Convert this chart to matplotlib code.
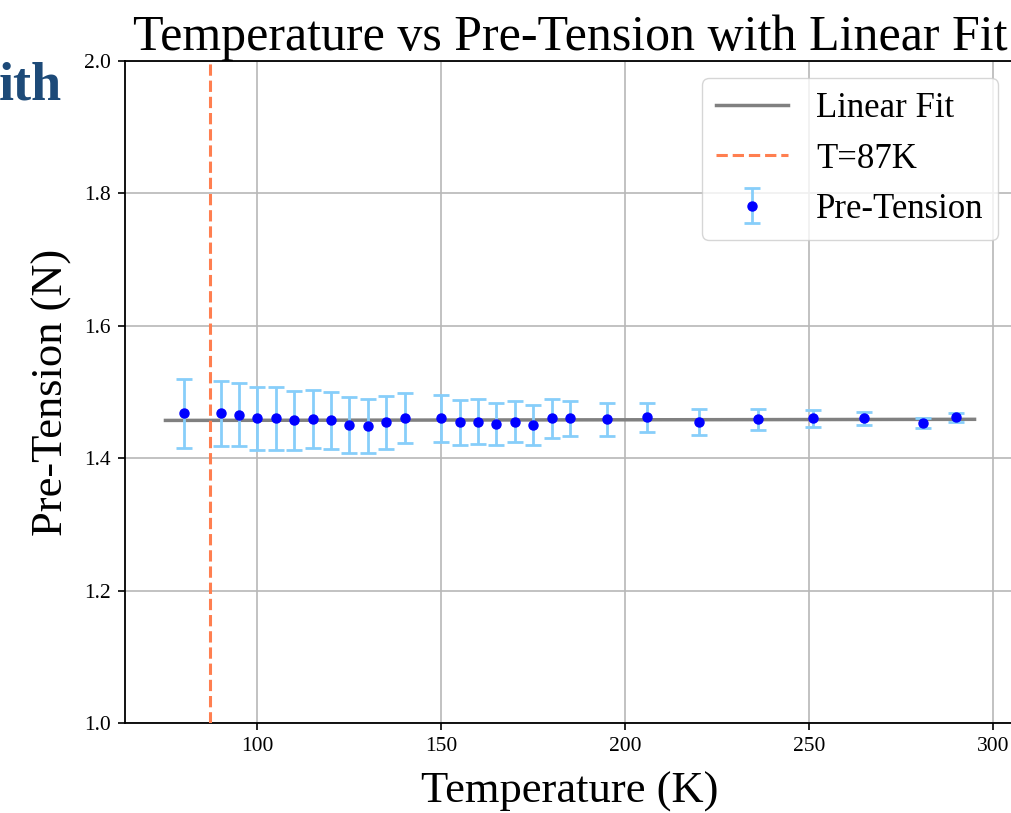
import numpy as np
import matplotlib
matplotlib.use("Agg")
import matplotlib.pyplot as plt

plt.rcParams['font.family'] = ['Liberation Serif', 'DejaVu Serif']

# Donnees
temperature = [80, 90, 95, 100, 105, 110, 115, 120, 125, 130, 135, 140,
               150, 155, 160, 165, 170, 175, 180, 185, 195, 206,
               220, 236, 251, 265, 281, 290]
pre_tension = [1.468, 1.468, 1.466, 1.460, 1.460, 1.457, 1.459, 1.457, 1.450, 1.449, 1.454, 1.461,
               1.460, 1.454, 1.455, 1.452, 1.455, 1.450, 1.460, 1.460, 1.459, 1.462,
               1.455, 1.459, 1.460, 1.460, 1.453, 1.462]
erreur = [0.052, 0.049, 0.048, 0.048, 0.047, 0.045, 0.044, 0.043, 0.042, 0.041, 0.040, 0.0375,
          0.035, 0.034, 0.034, 0.0315, 0.031, 0.030, 0.029, 0.027, 0.025, 0.022,
          0.020, 0.016, 0.0126, 0.010, 0.008, 0.007]
t_critique = 87

T = np.array(temperature)
P = np.array(pre_tension)
E = np.array(erreur)

# ajustement lineaire pondere
pente, ordonnee = np.polyfit(T, P, 1, w=1 / E)
T_fit = np.linspace(T.min() - 5, T.max() + 5, 100)
P_fit = pente * T_fit + ordonnee

W, H = 1012, 813
fig = plt.figure(figsize=(W / 100, H / 100), dpi=100)
ax = fig.add_axes([125 / W, (H - 723) / H, (1015 - 125) / W, (723 - 61) / H])

ax.plot(T_fit, P_fit, color='gray', lw=2.5, label='Linear Fit', zorder=3)
ax.axvline(t_critique, color='coral', ls='--', lw=2.2, label='T=87K', zorder=3)
ax.errorbar(T, P, yerr=E, fmt='o', color='blue', ecolor='lightskyblue', elinewidth=2,
            capsize=5.5, capthick=2, markersize=6.5, label='Pre-Tension', zorder=4)

ax.set_ylim(1.0, 2.0)
ax.set_xlim(64, 306)
ax.set_xticks([100, 150, 200, 250, 300])
ax.set_yticks([1.0, 1.2, 1.4, 1.6, 1.8, 2.0])
ax.tick_params(labelsize=15.5, width=1.2, length=5, pad=5)
for s in ax.spines.values():
    s.set_linewidth(1.3)
ax.grid(True, color='#b8b8b8', lw=1.2)
ax.set_axisbelow(True)

ax.set_title('Temperature vs Pre-Tension with Linear Fit', fontsize=36, pad=6)
ax.set_xlabel('Temperature (K)', fontsize=32, labelpad=11)
ax.set_ylabel('Pre-Tension (N)', fontsize=32, labelpad=9)

handles, labels = ax.get_legend_handles_labels()
ax.legend(handles, labels, loc='upper right', fontsize=25, handlelength=2.1,
          edgecolor='#cccccc')

# bout du titre de la diapo (seul "ith" est visible sur l'image)
fig.text(62 / W, 1 - 100 / H, 'ith', fontsize=39, fontweight='bold', color='#1d4a78',
         ha='right', va='baseline')

fig.savefig('out.png', dpi=100)
